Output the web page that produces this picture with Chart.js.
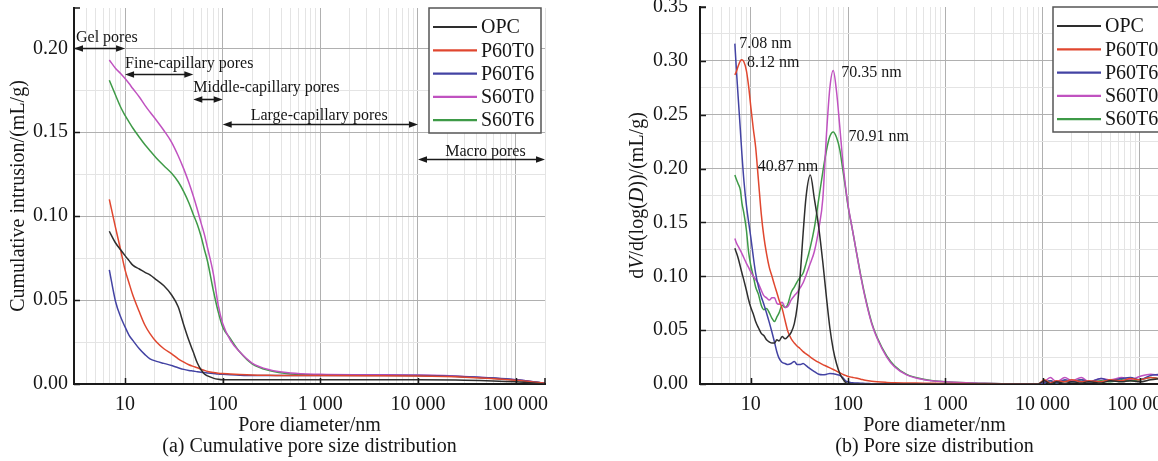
<!DOCTYPE html>
<html>
<head>
<meta charset="utf-8">
<script src="https://cdn.jsdelivr.net/npm/chart.js@4.4.1/dist/chart.umd.min.js"></script>
<style>
  html, body { margin: 0; padding: 0; background: #fff; overflow: hidden; }
  #wrap { position: relative; width: 1158px; height: 461px; overflow: hidden; }
  canvas { position: absolute; top: 0; }
  #chartA { left: 0; }
  #chartB { left: 580px; }
</style>
</head>
<body>
<div id="wrap">
  <canvas id="chartA" width="580" height="461"></canvas>
  <canvas id="chartB" width="620" height="461"></canvas>
</div>
<script>
// ---- data ----
const seriesNames = ['OPC', 'P60T0', 'P60T6', 'S60T0', 'S60T6'];

const xTickValues = [10, 100, 1000, 10000, 100000];
const xTickLabels = ['10', '100', '1 000', '10 000', '100 000'];
const yTickValuesA = [0, 0.05, 0.10, 0.15, 0.20];
const yTickValuesB = [0, 0.05, 0.10, 0.15, 0.20, 0.25, 0.30, 0.35];

// (a) cumulative intrusion, mL/g
const diamA = [6.9, 8, 9, 10, 11, 12, 14, 16, 18, 21, 25, 30, 35, 40, 45, 50, 55, 60, 65, 70,
  80, 90, 100, 120, 150, 200, 300, 500, 1000, 3000, 10000, 30000, 100000, 200000];
const opcA = [0.091, 0.084, 0.080, 0.0765, 0.0735, 0.0708, 0.0685, 0.0665, 0.065, 0.062, 0.0585, 0.053, 0.046, 0.035, 0.026, 0.019, 0.0125, 0.0085, 0.006, 0.0048,
  0.0035, 0.0028, 0.0025, 0.0025, 0.0025, 0.0025, 0.0025, 0.0025, 0.0025, 0.0025, 0.0025, 0.0023, 0.0013, 0];
const p60t0A = [0.110, 0.093, 0.080, 0.068, 0.060, 0.053, 0.043, 0.035, 0.030, 0.025, 0.021, 0.018, 0.015, 0.013, 0.0115, 0.0105, 0.0097, 0.0088, 0.0081, 0.0075,
  0.0068, 0.0064, 0.0062, 0.006, 0.0057, 0.0054, 0.0052, 0.005, 0.005, 0.0049, 0.0047, 0.004, 0.0022, 0.0005];
const p60t6A = [0.068, 0.049, 0.040, 0.034, 0.029, 0.026, 0.021, 0.0175, 0.015, 0.0135, 0.0123, 0.011, 0.0097, 0.0087, 0.0081, 0.0077, 0.0073, 0.0070, 0.0068, 0.0066,
  0.0063, 0.006, 0.0058, 0.0055, 0.0052, 0.005, 0.005, 0.005, 0.005, 0.005, 0.005, 0.0043, 0.0026, 0.0005];
const s60t0A = [0.193, 0.188, 0.185, 0.182, 0.179, 0.176, 0.171, 0.166, 0.162, 0.157, 0.151, 0.144, 0.136, 0.128, 0.120, 0.112, 0.104, 0.096, 0.089, 0.081,
  0.066, 0.047, 0.036, 0.026, 0.019, 0.0125, 0.0085, 0.0065, 0.0058, 0.0055, 0.0053, 0.0045, 0.0025, 0.0005];
const s60t6A = [0.181, 0.172, 0.165, 0.160, 0.156, 0.1525, 0.147, 0.1425, 0.139, 0.1345, 0.130, 0.1255, 0.1205, 0.1145, 0.108, 0.101, 0.095, 0.088, 0.080, 0.073,
  0.056, 0.043, 0.034, 0.027, 0.019, 0.012, 0.008, 0.006, 0.0055, 0.0052, 0.005, 0.0043, 0.0024, 0.0005];

// (b) dV/d(log D), mL/g
const diamB = [6.85, 7.1, 7.4, 7.8, 8.1, 8.5, 9, 9.5, 10, 10.6,
  11.2, 12, 12.8, 13.6, 14.5, 15.5, 16.5, 17.5, 18.5, 19.5,
  21, 22.5, 24, 26, 28, 30, 32, 34.5, 37, 40.9,
  45, 50, 55, 60, 65, 70.4, 76, 82, 88, 94,
  100, 110, 120, 135, 150, 175, 200, 250, 300, 400,
  600, 1000, 2000, 5000, 9000, 10500, 12000, 14000, 17000, 20000,
  25000, 30000, 40000, 50000, 65000, 80000, 100000, 130000, 160000, 200000];
const opcB = [0.126, 0.122, 0.117, 0.109, 0.103, 0.096, 0.087, 0.078, 0.071, 0.065,
  0.058, 0.052, 0.047, 0.045, 0.041, 0.039, 0.038, 0.038, 0.041, 0.040,
  0.044, 0.042, 0.044, 0.048, 0.056, 0.072, 0.098, 0.140, 0.174, 0.194,
  0.172, 0.145, 0.113, 0.080, 0.052, 0.032, 0.019, 0.010, 0.005, 0.0015,
  0, 0, 0, 0, 0, 0, 0, 0, 0, 0,
  0, 0, 0, 0, 0, 0.003, 0, 0.002, 0.0005, 0.002,
  0.001, 0.002, 0.001, 0.003, 0.002, 0.003, 0.002, 0.004, 0.005, 0.006];
const p60t0B = [0.287, 0.290, 0.295, 0.300, 0.301, 0.299, 0.291, 0.276, 0.257, 0.237,
  0.220, 0.188, 0.158, 0.137, 0.121, 0.108, 0.100, 0.092, 0.085, 0.078,
  0.070, 0.059, 0.049, 0.042, 0.038, 0.035, 0.033, 0.030, 0.028, 0.025,
  0.0225, 0.020, 0.018, 0.0165, 0.015, 0.0135, 0.012, 0.0105, 0.009, 0.008,
  0.007, 0.0062, 0.0056, 0.0045, 0.0035, 0.0025, 0.002, 0.0015, 0.0012, 0.001,
  0.0008, 0.0005, 0.0003, 0, 0, 0.004, 0.001, 0.003, 0.002, 0.004,
  0.002, 0.003, 0.002, 0.004, 0.003, 0.005, 0.004, 0.006, 0.005, 0.008];
const p60t6B = [0.316, 0.292, 0.267, 0.236, 0.213, 0.188, 0.166, 0.150, 0.136, 0.118,
  0.103, 0.090, 0.081, 0.074, 0.066, 0.057, 0.048, 0.039, 0.030, 0.024,
  0.020, 0.019, 0.018, 0.019, 0.021, 0.018, 0.018, 0.019, 0.017, 0.014,
  0.0115, 0.009, 0.0085, 0.009, 0.0098, 0.0095, 0.0088, 0.008, 0.006, 0.003,
  0.0018, 0.0012, 0.001, 0.0008, 0.0005, 0.0003, 0, 0, 0, 0,
  0, 0, 0, 0, 0, 0.001, 0.003, 0.001, 0.004, 0.002,
  0.004, 0.002, 0.005, 0.003, 0.005, 0.006, 0.004, 0.008, 0.009, 0.011];
const s60t0B = [0.135, 0.131, 0.128, 0.124, 0.121, 0.117, 0.112, 0.108, 0.104, 0.100,
  0.097, 0.093, 0.087, 0.082, 0.080, 0.078, 0.080, 0.080, 0.075, 0.074,
  0.076, 0.071, 0.072, 0.078, 0.082, 0.085, 0.089, 0.094, 0.101, 0.112,
  0.123, 0.144, 0.172, 0.232, 0.275, 0.291, 0.272, 0.240, 0.208, 0.184,
  0.166, 0.145, 0.126, 0.100, 0.080, 0.056, 0.042, 0.025, 0.016, 0.0085,
  0.004, 0.002, 0.001, 0, 0, 0.002, 0.006, 0.002, 0.006, 0.003,
  0.006, 0.002, 0.005, 0.004, 0.006, 0.004, 0.007, 0.009, 0.008, 0.011];
const s60t6B = [0.194, 0.190, 0.186, 0.180, 0.168, 0.158, 0.143, 0.122, 0.110, 0.100,
  0.090, 0.083, 0.073, 0.069, 0.070, 0.066, 0.061, 0.058, 0.062, 0.066,
  0.073, 0.071, 0.074, 0.085, 0.090, 0.095, 0.099, 0.103, 0.112, 0.127,
  0.145, 0.172, 0.197, 0.217, 0.230, 0.234, 0.229, 0.218, 0.200, 0.182,
  0.165, 0.145, 0.126, 0.101, 0.081, 0.057, 0.043, 0.026, 0.017, 0.009,
  0.0045, 0.002, 0.001, 0, 0, 0.001, 0.003, 0.001, 0.003, 0.002,
  0.004, 0.002, 0.003, 0.002, 0.004, 0.003, 0.004, 0.006, 0.005, 0.008];

// pore classes (nm ranges) and peak labels
const poreClasses = [
  ['Gel pores', 3, 10],
  ['Fine-capillary pores', 10, 50],
  ['Middle-capillary pores', 50, 100],
  ['Large-capillary pores', 100, 10000],
  ['Macro pores', 10000, 200000]
];
const peakLabels = [
  ['7.08 nm', 7.08, 0.316],
  ['8.12 nm', 8.12, 0.301],
  ['70.35 nm', 70.35, 0.291],
  ['70.91 nm', 70.91, 0.234],
  ['40.87 nm', 40.87, 0.194]
];

// ---- styling ----
const FONT = '"Liberation Serif", "Times New Roman", serif';
const TEXT = '#161616';
const AXIS = '#1a1a1a';
const MAJOR = '#b0b0b0';
const MINOR = '#e4e4e4';
const seriesColors = ['#2e2e2e', '#e0472f', '#4343a3', '#c052c0', '#3e9a47'];
// arrow height (value) and text placement for each pore class
const poreLayout = [
  { y: 0.200, align: 'left', dx: 2, dy: -11 },
  { y: 0.1845, align: 'left', dx: 0, dy: -11 },
  { y: 0.170, align: 'left', dx: 0, dy: -12 },
  { y: 0.155, align: 'left', dx: 28, dy: -9 },
  { y: 0.134, align: 'center', dx: 4, dy: -8 }
];
const peakLayout = [
  { dx: 3, dy: 0, align: 'left' },
  { dx: 5, dy: 3, align: 'left' },
  { dx: 8, dy: 2, align: 'left' },
  { dx: 15, dy: 5, align: 'left' },
  { dx: 8, dy: -8, align: 'right' }
];

function isDecade(v) { const l = Math.log10(v); return Math.abs(l - Math.round(l)) < 1e-9; }
function inList(v, list) { return list.some(t => Math.abs(t - v) < 1e-9); }

function logGrid(min, max) {
  const out = [];
  for (let e = 0; e <= 5; e++) {
    for (let m = 1; m <= 9; m++) {
      const v = m * Math.pow(10, e);
      if (v >= min && v <= max) out.push(v);
    }
  }
  return out;
}

function linGrid(max, step) {
  const out = [];
  for (let k = 0; k * step <= max + 1e-9; k++) out.push(+(k * step).toFixed(4));
  return out;
}

function makeDatasets(diam, cols) {
  return seriesNames.map((name, i) => ({
    label: name,
    data: diam.map((d, j) => ({ x: d, y: cols[i][j] })),
    borderColor: seriesColors[i],
    backgroundColor: seriesColors[i],
    borderWidth: 1.5,
    pointRadius: 0,
    cubicInterpolationMode: 'monotone',
    fill: false
  }));
}

function drawArrow(ctx, x1, x2, y) {
  ctx.beginPath();
  ctx.moveTo(x1 + 4, y);
  ctx.lineTo(x2 - 4, y);
  ctx.stroke();
  [[x1, 1], [x2, -1]].forEach(([x, dir]) => {
    ctx.beginPath();
    ctx.moveTo(x, y);
    ctx.lineTo(x + dir * 9, y - 3.2);
    ctx.lineTo(x + dir * 9, y + 3.2);
    ctx.closePath();
    ctx.fill();
  });
}

// axis ticks pointing in, pore-class arrows, peak labels, boxed legend, italic y title
const decor = {
  id: 'decor',
  afterDatasetsDraw(chart, args, o) {
    const { ctx, chartArea: a } = chart;
    const xs = chart.scales.x, ys = chart.scales.y;
    ctx.save();

    ctx.strokeStyle = AXIS;
    ctx.lineWidth = 1.5;
    ctx.beginPath();
    xTickValues.forEach(v => {
      const p = Math.round(xs.getPixelForValue(v)) + 0.5;
      ctx.moveTo(p, a.bottom); ctx.lineTo(p, a.bottom - 6);
    });
    ctx.moveTo(a.right, a.bottom); ctx.lineTo(a.right, a.bottom - 6);
    o.yTicks.forEach(v => {
      const p = Math.round(ys.getPixelForValue(v)) + 0.5;
      ctx.moveTo(a.left, p); ctx.lineTo(a.left + 6, p);
    });
    ctx.moveTo(a.left, a.top); ctx.lineTo(a.left + 6, a.top);
    ctx.stroke();

    ctx.fillStyle = TEXT;
    ctx.textBaseline = 'middle';

    if (o.pores) {
      ctx.font = '16px ' + FONT;
      ctx.strokeStyle = AXIS;
      ctx.lineWidth = 1.6;
      poreClasses.forEach(([label, from, to], i) => {
        const L = poreLayout[i];
        const x1 = xs.getPixelForValue(from), x2 = xs.getPixelForValue(to);
        const y = Math.round(ys.getPixelForValue(L.y)) + 0.5;
        ctx.fillStyle = AXIS;
        drawArrow(ctx, x1, x2, y);
        ctx.textAlign = L.align;
        const tx = L.align === 'center' ? (x1 + x2) / 2 + L.dx : x1 + L.dx;
        ctx.fillStyle = TEXT;
        ctx.fillText(label, tx, y + L.dy);
      });
    }

    if (o.peaks) {
      ctx.font = '16px ' + FONT;
      ctx.fillStyle = TEXT;
      peakLabels.forEach(([label, d, v], i) => {
        const L = peakLayout[i];
        ctx.textAlign = L.align;
        ctx.fillText(label, xs.getPixelForValue(d) + L.dx, ys.getPixelForValue(v) + L.dy);
      });
    }

    // legend box
    const bw = 112, bh = 125;
    const bx = a.right - 4 - bw, by = a.top;
    ctx.fillStyle = '#fff';
    ctx.fillRect(bx, by, bw, bh);
    ctx.strokeStyle = '#555';
    ctx.lineWidth = 1.5;
    ctx.strokeRect(bx, by, bw, bh);
    ctx.font = '20px ' + FONT;
    ctx.textAlign = 'left';
    chart.data.datasets.forEach((ds, i) => {
      const ry = by + 19 + i * 23.3;
      ctx.strokeStyle = ds.borderColor;
      ctx.lineWidth = 2.2;
      ctx.beginPath();
      ctx.moveTo(bx + 4, ry); ctx.lineTo(bx + 48, ry);
      ctx.stroke();
      ctx.fillStyle = TEXT;
      ctx.fillText(ds.label, bx + 52, ry + 1);
    });

    if (o.yTitleParts) {
      const parts = o.yTitleParts;
      ctx.translate(a.left - 62, (a.top + a.bottom) / 2);
      ctx.rotate(-Math.PI / 2);
      const fontOf = it => (it ? 'italic ' : '') + '20px ' + FONT;
      let total = 0;
      parts.forEach(([t, it]) => { ctx.font = fontOf(it); total += ctx.measureText(t).width; });
      let cx = -total / 2;
      ctx.fillStyle = TEXT;
      ctx.textAlign = 'left';
      parts.forEach(([t, it]) => {
        ctx.font = fontOf(it);
        ctx.fillText(t, cx, 0);
        cx += ctx.measureText(t).width;
      });
    }
    ctx.restore();
  }
};

function makeOptions(cfg) {
  return {
    responsive: false,
    animation: false,
    layout: { padding: { top: cfg.top, right: cfg.right, left: 0, bottom: 0 } },
    plugins: {
      legend: { display: false },
      tooltip: { enabled: false },
      decor: { yTicks: cfg.yTicks, pores: cfg.pores, peaks: cfg.peaks, yTitleParts: cfg.yTitleParts }
    },
    scales: {
      x: {
        type: 'logarithmic',
        min: 3,
        max: 200000,
        afterBuildTicks: s => { s.ticks = logGrid(3, 200000).map(v => ({ value: v })); },
        afterFit: s => { s.height = 77; s.paddingLeft = 0; s.paddingRight = 0; },
        ticks: {
          autoSkip: false, maxRotation: 0, minRotation: 0, padding: 9, color: TEXT,
          font: { family: FONT, size: 20 },
          callback: v => {
            const i = xTickValues.findIndex(t => Math.abs(t - v) < 1e-6);
            return i >= 0 ? xTickLabels[i] : '';
          }
        },
        grid: { drawTicks: false, lineWidth: 1, color: c => (c.tick && isDecade(c.tick.value) ? MAJOR : MINOR) },
        border: { color: AXIS, width: 2 },
        title: {
          display: true, text: ['Pore diameter/nm', cfg.caption], color: TEXT,
          font: { family: FONT, size: 20, lineHeight: 1.05 }, padding: { top: 0, bottom: 4 }
        }
      },
      y: {
        type: 'linear',
        min: 0,
        max: cfg.ymax,
        afterBuildTicks: s => { s.ticks = linGrid(cfg.ymax, 0.025).map(v => ({ value: v })); },
        afterFit: s => { s.width = cfg.yWidth; s.paddingTop = 0; s.paddingBottom = 0; },
        ticks: {
          autoSkip: false, padding: cfg.yPad, color: TEXT,
          font: { family: FONT, size: 20 },
          callback: v => (inList(v, cfg.yTicks) ? v.toFixed(2) : '')
        },
        grid: {
          drawTicks: false, lineWidth: 1,
          color: c => {
            if (!c.tick) return MINOR;
            if (c.tick.value >= cfg.ymax - 1e-9) return 'rgba(0,0,0,0)';
            return inList(c.tick.value, cfg.yTicks) ? MAJOR : MINOR;
          }
        },
        border: { color: AXIS, width: 2 },
        title: {
          display: !!cfg.yTitle, text: cfg.yTitle || '', color: TEXT,
          font: { family: FONT, size: 20 }, padding: { top: 7, bottom: 0 }
        }
      }
    }
  };
}

new Chart(document.getElementById('chartA'), {
  type: 'line',
  data: { datasets: makeDatasets(diamA, [opcA, p60t0A, p60t6A, s60t0A, s60t6A]) },
  options: makeOptions({
    top: 8, right: 35, ymax: 0.224, yTicks: yTickValuesA, yWidth: 74, yPad: 6,
    yTitle: 'Cumulative intrusion/(mL/g)', caption: '(a) Cumulative pore size distribution',
    pores: true, peaks: false
  }),
  plugins: [decor]
});

new Chart(document.getElementById('chartB'), {
  type: 'line',
  data: { datasets: makeDatasets(diamB, [opcB, p60t0B, p60t6B, s60t0B, s60t6B]) },
  options: makeOptions({
    top: 7, right: 31, ymax: 0.35, yTicks: yTickValuesB, yWidth: 120, yPad: 12,
    yTitle: null, caption: '(b) Pore size distribution',
    yTitleParts: [['d', false], ['V', true], ['/d(log(', false], ['D', true], ['))/(mL/g)', false]],
    pores: false, peaks: true
  }),
  plugins: [decor]
});
</script>
</body>
</html>
